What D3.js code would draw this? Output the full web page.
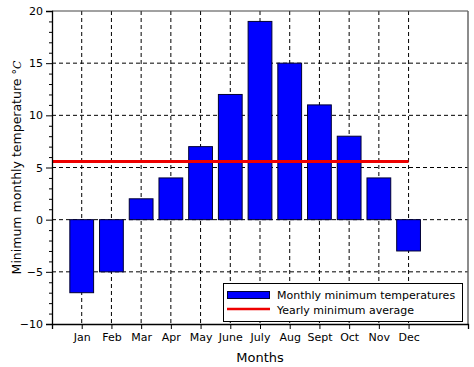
<!DOCTYPE html>
<html><head><meta charset="utf-8">
<script src="https://cdn.jsdelivr.net/npm/d3@7/dist/d3.min.js"></script>
<style>
html,body{margin:0;padding:0;background:#fff;}
text{font-family:"DejaVu Sans",sans-serif;fill:#000;}
</style></head>
<body><svg id="chart" width="474" height="367"></svg>
<script>
const months = ["Jan","Feb","Mar","Apr","May","June","July","Aug","Sept","Oct","Nov","Dec"];
const minTemps = [-7,-5,2,4,7,12,19,15,11,8,4,-3];
const yTicks = [-10,-5,0,5,10,15,20];
const legendLabels = ["Monthly minimum temperatures","Yearly minimum average"];
const avg = d3.mean(minTemps);

const svg = d3.select("#chart");
const L=52, R=468, T=11, B=324;
const x = d3.scaleLinear().domain([0,14]).range([L,R]);
const y = d3.scaleLinear().domain([-10,20]).range([B,T]);

// grid
const g = svg.append("g");
g.selectAll("line.vg").data(months).join("line")
  .attr("x1",(d,i)=>x(i+1)).attr("x2",(d,i)=>x(i+1))
  .attr("y1",T).attr("y2",B)
  .attr("stroke","#000").attr("stroke-width",1).attr("stroke-dasharray","4,3");
g.selectAll("line.hg").data(yTicks.filter(v=>v>-10&&v<20)).join("line")
  .attr("x1",L).attr("x2",R).attr("y1",d=>y(d)).attr("y2",d=>y(d))
  .attr("stroke","#000").attr("stroke-width",1).attr("stroke-dasharray","4,3");

// bars
svg.append("g").selectAll("rect").data(minTemps).join("rect")
  .attr("x",(d,i)=>x(i+1-0.4)).attr("width",x(0.8)-x(0))
  .attr("y",d=>y(Math.max(0,d))).attr("height",d=>Math.abs(y(d)-y(0)))
  .attr("fill","#0000ff").attr("stroke","#000033").attr("stroke-width",1);

// average line
svg.append("line").attr("x1",x(0)).attr("x2",x(12)).attr("y1",y(avg)).attr("y2",y(avg))
  .attr("stroke","#ee0000").attr("stroke-width",3);

// frame
svg.append("line").attr("x1",L).attr("x2",R).attr("y1",T).attr("y2",T).attr("stroke","#444").attr("stroke-width",1);
svg.append("line").attr("x1",R).attr("x2",R).attr("y1",T).attr("y2",B).attr("stroke","#666").attr("stroke-width",1.5);

// axes
const yAxis = d3.axisLeft(y).tickValues(yTicks).tickSize(6).tickPadding(3).tickFormat(d3.format("d"));
const ya = svg.append("g").attr("transform",`translate(${L},0)`).call(yAxis);
const yMinor = d3.axisLeft(y).tickValues(d3.range(-10,21).filter(v=>v%5!==0)).tickSize(3).tickFormat("");
svg.append("g").attr("transform",`translate(${L},0)`).call(yMinor).select(".domain").remove();
const xAxis = d3.axisBottom(x).tickValues(d3.range(1,13)).tickSize(5).tickPadding(4).tickFormat(d=>months[d-1]);
const xa = svg.append("g").attr("transform",`translate(0,${B})`).call(xAxis);
[ya,xa].forEach(a=>{
  a.selectAll("text").style("font-size","11px").style("font-family","DejaVu Sans").attr("fill","#111");
  a.selectAll("line").attr("stroke","#000");
  a.select(".domain").attr("stroke","#000").attr("stroke-width",1.3);
});
svg.selectAll(".tick line").attr("stroke","#000");

// axis titles
svg.append("text").attr("x",(L+R)/2).attr("y",362).attr("text-anchor","middle")
  .style("font-size","13px").attr("fill","#222").text("Months");
const yt = svg.append("text").attr("transform",`translate(21,${(T+B)/2}) rotate(-90)`)
  .attr("text-anchor","middle").style("font-size","12.5px").attr("fill","#222");
yt.append("tspan").text("Minimum monthly temperature  ");
yt.append("tspan").style("font-style","italic").style("font-family","DejaVu Serif").style("font-size","11px").text("°C");

// legend
const lg = svg.append("g");
lg.append("rect").attr("x",223.5).attr("y",283.5).attr("width",239).attr("height",38)
  .attr("fill","#fff").attr("stroke","#000").attr("stroke-width",1);
lg.append("rect").attr("x",227.5).attr("y",291.5).attr("width",42).attr("height",7)
  .attr("fill","#0000ff").attr("stroke","#000033");
lg.append("line").attr("x1",227).attr("x2",270).attr("y1",309).attr("y2",309)
  .attr("stroke","#ee0000").attr("stroke-width",2.5);
lg.selectAll("text").data(legendLabels).join("text")
  .attr("x",277).attr("y",(d,i)=>299+i*15).style("font-size","11px").attr("fill","#111").text(d=>d);
</script></body></html>
